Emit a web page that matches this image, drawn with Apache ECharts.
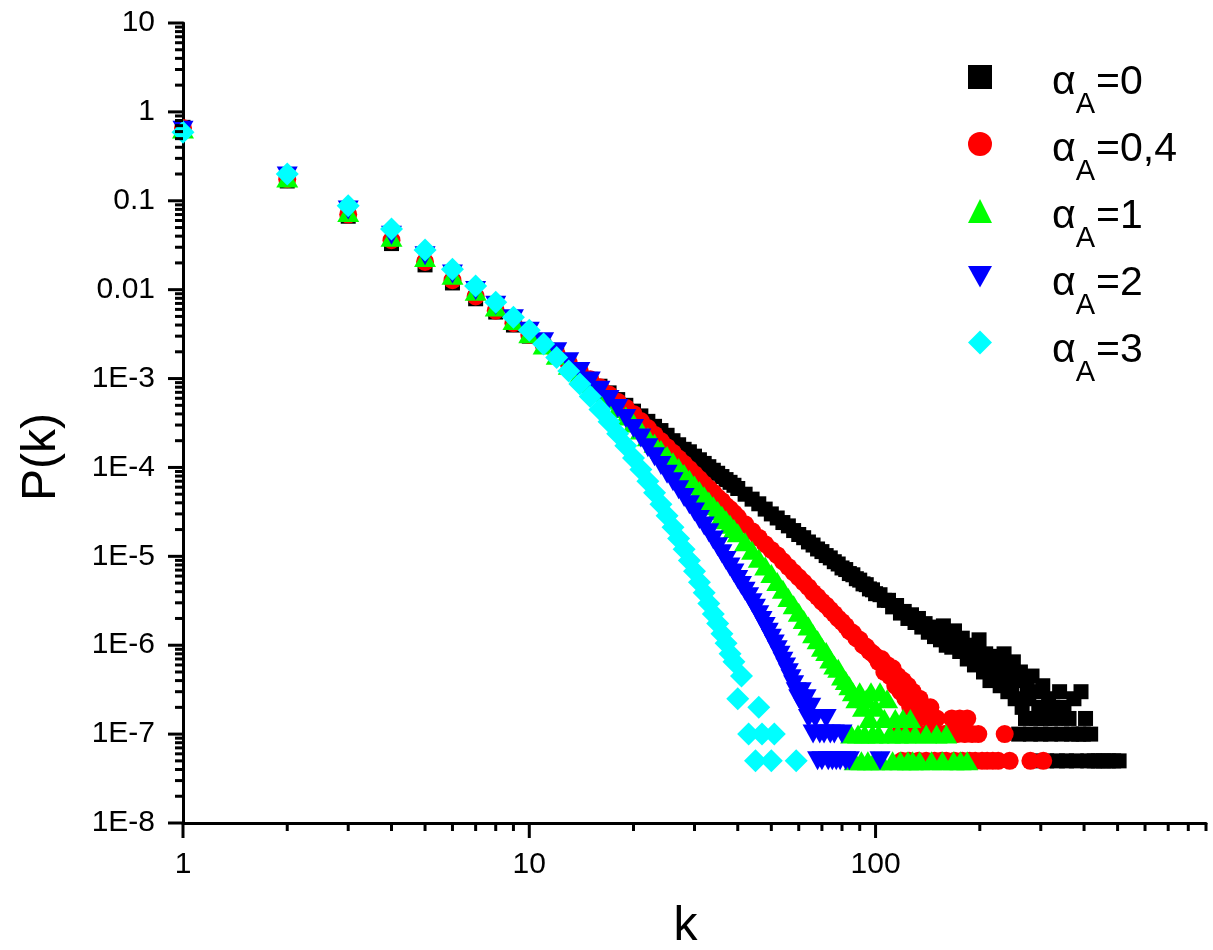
<!DOCTYPE html>
<html>
<head>
<meta charset="utf-8">
<script src="https://cdn.jsdelivr.net/npm/echarts@6/dist/echarts.min.js"></script>
<style>
  html, body { margin: 0; padding: 0; background: #fff; }
  #chart { width: 1213px; height: 950px; }
</style>
</head>
<body>
<div id="chart"></div>
<script>
// Degree distribution P(k) for five values of the attachment exponent alpha_A.
// Each series is a list of [k, P(k)] pairs.

const xTickLabels = ['1', '10', '100'];                       // k = 10^0 .. 10^2
const yTickLabels = ['1E-8', '1E-7', '1E-6', '1E-5', '1E-4',  // P = 10^-8 .. 10^1
                     '1E-3', '0.01', '0.1', '1', '10'];

const seriesNames = ['αA=0', 'αA=0,4', 'αA=1', 'αA=2', 'αA=3'];
const legendValues = ['0', '0,4', '1', '2', '3'];

const alpha0 = [
  [1,0.67],[2,0.167],[3,0.067],[4,0.033],[5,0.019],[6,0.0119],[7,0.0079],[8,0.0056],[9,0.0040],
  [10,0.0030],[11,0.0023],[12,0.00183],[13,0.00147],[14,0.00119],[15,0.00098],[16,0.00082],
  [17,0.00069],[18,0.00058],[19,0.00050],[20,0.00043],[21,0.00038],[22,0.00033],[23,0.00029],
  [24,0.00026],[25,0.00023],[26,0.00020],[27,0.00018],[28,0.00016],[29,0.00015],[30,0.000134],
  [31,0.000122],[32,0.000111],[33,0.000102],[34,9.3e-5],[35,8.6e-5],[36,7.9e-5],[37,7.3e-5],
  [38,6.8e-5],[39,6.3e-5],[40,5.8e-5],[42,5.0e-5],[44,4.4e-5],[46,3.9e-5],[48,3.4e-5],[50,3.0e-5],
  [52,2.7e-5],[54,2.4e-5],[56,2.2e-5],[58,1.95e-5],[60,1.76e-5],[62,1.62e-5],[64,1.45e-5],
  [66,1.34e-5],[68,1.21e-5],[70,1.13e-5],[72,1.02e-5],[74,9.6e-6],[76,8.7e-6],[78,8.2e-6],
  [80,7.4e-6],[82,7.1e-6],[84,6.4e-6],[86,6.2e-6],[88,5.6e-6],[90,5.4e-6],[92,4.9e-6],[94,4.8e-6],
  [96,4.3e-6],[98,4.2e-6],[100,3.8e-6],[103,3.7e-6],[106,3.2e-6],[109,3.2e-6],[112,2.7e-6],
  [115,2.8e-6],[118,2.3e-6],[121,2.4e-6],[124,2.0e-6],[127,2.2e-6],[130,1.8e-6],[133,2.0e-6],
  [136,1.6e-6],[139,1.75e-6],[142,1.4e-6],[145,1.6e-6],[148,1.25e-6],[151,1.5e-6],[154,1.15e-6],
  [157,1.65e-6],[160,1.0e-6],[163,1.35e-6],[166,9.5e-7],[169,1.45e-6],[172,1.05e-6],[175,8.5e-7],
  [178,1.2e-6],[181,9e-7],[184,7e-7],[187,1.0e-6],[190,8e-7],[193,6e-7],[196,9e-7],[199,1.15e-6],
  [202,7e-7],[205,5e-7],[208,8e-7],[211,6e-7],[214,4e-7],[217,7.5e-7],[220,5.5e-7],[223,4.5e-7],
  [226,6.5e-7],[229,3.5e-7],[232,5e-7],[235,8e-7],[238,4e-7],[241,3e-7],[244,5.5e-7],[247,3.5e-7],
  [250,6.5e-7],[253,2.5e-7],[256,4.5e-7],[259,1e-7],[262,5e-7],[265,2e-7],[268,4e-7],[271,1.5e-7],
  [274,3.5e-7],[277,2.5e-7],[280,1e-7],[283,4.5e-7],[286,5e-8],[289,3e-7],[292,1.5e-7],[296,2e-7],
  [300,1e-7],[304,3.5e-7],[308,1.5e-7],[312,5e-8],[316,2.5e-7],[320,1e-7],[325,2e-7],[330,1.5e-7],
  [335,5e-8],[340,3e-7],[345,1e-7],[350,2e-7],[356,5e-8],[362,1.5e-7],[368,1e-7],[374,2.5e-7],
  [380,5e-8],[386,1e-7],[392,3e-7],[398,1e-7],[404,1.5e-7],[410,5e-8],[418,1e-7],[428,5e-8],
  [440,5e-8],[455,5e-8],[470,5e-8],[487,5e-8],[505,5e-8]
];

const alpha04 = [
  [1,0.66],[2,0.175],[3,0.07],[4,0.036],[5,0.0205],[6,0.0128],[7,0.0084],[8,0.0058],[9,0.0042],
  [10,0.0031],[11,0.00238],[12,0.00187],[13,0.00149],[14,0.0012],[15,0.00098],[16,0.0008],
  [17,0.00066],[18,0.00055],[19,0.00047],[20,0.0004],[21,0.000332],[22,0.000277],[23,0.000234],
  [24,0.000198],[25,0.000169],[26,0.000146],[27,0.000126],[28,0.00011],[29,9.6e-5],[30,8.4e-5],
  [31,7.4e-5],[32,6.5e-5],[33,5.8e-5],[34,5.2e-5],[35,4.6e-5],[36,4.2e-5],[37,3.7e-5],[38,3.4e-5],
  [39,3.06e-5],[40,2.77e-5],[42,2.3e-5],[44,1.92e-5],[46,1.62e-5],[48,1.37e-5],[50,1.18e-5],
  [52,1.03e-5],[54,8.8e-6],[56,7.6e-6],[58,6.6e-6],[60,5.8e-6],[62,5.1e-6],[64,4.5e-6],[66,3.9e-6],
  [68,3.5e-6],[70,3.1e-6],[72,2.8e-6],[74,2.5e-6],[76,2.25e-6],[78,2.0e-6],[80,1.83e-6],[82,1.65e-6],
  [84,1.45e-6],[86,1.37e-6],[88,1.2e-6],[90,1.15e-6],[92,1.0e-6],[94,9.6e-7],[96,8.6e-7],[98,8.1e-7],
  [100,7.5e-7],[102,6.5e-7],[104,7e-7],[106,5e-7],[108,6e-7],[110,4.5e-7],[112,5.5e-7],[114,3.5e-7],
  [116,4.5e-7],[117,1e-7],[118,3e-7],[119,5e-8],[120,4e-7],[122,2.5e-7],[124,3.5e-7],[125,5e-8],
  [126,2e-7],[128,3e-7],[129,1e-7],[130,2.5e-7],[132,1.5e-7],[133,5e-8],[134,2.5e-7],[136,1e-7],
  [138,2e-7],[140,5e-8],[142,1.5e-7],[144,2e-7],[146,1e-7],[148,5e-8],[150,1.5e-7],[152,1e-7],
  [155,5e-8],[158,1e-7],[160,5e-8],[163,1e-7],[166,1.5e-7],[169,5e-8],[172,1e-7],[175,1.5e-7],
  [178,5e-8],[181,1e-7],[184,1.5e-7],[187,5e-8],[190,1e-7],[194,5e-8],[198,1e-7],[203,5e-8],
  [210,5e-8],[218,5e-8],[226,5e-8],[236,1e-7],[244,5e-8],[280,5e-8],[305,5e-8]
];

const alpha1 = [
  [1,0.64],[2,0.18],[3,0.074],[4,0.039],[5,0.023],[6,0.0145],[7,0.0096],[8,0.0064],[9,0.0045],
  [10,0.0032],[11,0.00239],[12,0.00183],[13,0.00141],[14,0.00111],[15,0.00088],[16,0.0007],
  [17,0.00057],[18,0.00046],[19,0.00038],[20,0.000316],[21,0.000264],[22,0.000222],[23,0.000187],
  [24,0.000159],[25,0.000136],[26,0.000116],[27,0.0001],[28,8.55e-5],[29,7.35e-5],[30,6.35e-5],
  [31,5.5e-5],[32,4.8e-5],[33,4.2e-5],[34,3.7e-5],[35,3.27e-5],[36,2.9e-5],[37,2.58e-5],[38,2.3e-5],
  [39,2.05e-5],[40,1.84e-5],[42,1.46e-5],[44,1.17e-5],[46,9.5e-6],[48,7.8e-6],[50,6.4e-6],
  [52,5.2e-6],[54,4.25e-6],[56,3.45e-6],[58,2.85e-6],[60,2.35e-6],[62,1.95e-6],[64,1.65e-6],
  [66,1.35e-6],[68,1.15e-6],[70,9.5e-7],[72,8.5e-7],[74,7e-7],[76,6e-7],[78,5.5e-7],[80,4.5e-7],
  [82,4e-7],[84,3.5e-7],[85,1e-7],[86,3e-7],[87,5e-8],[88,2.5e-7],[89,1e-7],[90,3e-7],[91,5e-8],
  [92,2e-7],[93,1e-7],[94,2.5e-7],[95,5e-8],[96,1.5e-7],[97,3e-7],[98,1e-7],[99,5e-8],[100,2e-7],
  [102,1e-7],[103,3e-7],[104,5e-8],[106,1.5e-7],[108,2.5e-7],[110,1e-7],[112,5e-8],[114,1.5e-7],
  [116,1e-7],[118,5e-8],[120,1.5e-7],[122,1e-7],[124,5e-8],[126,1.5e-7],[128,5e-8],[130,1e-7],
  [134,5e-8],[140,1e-7],[145,5e-8],[150,1e-7],[156,5e-8],[160,1e-7],[168,5e-8],[176,5e-8],[184,5e-8]
];

const alpha2 = [
  [1,0.62],[2,0.19],[3,0.079],[4,0.041],[5,0.024],[6,0.015],[7,0.0098],[8,0.0067],[9,0.0047],
  [10,0.0034],[11,0.0026],[12,0.002],[13,0.00155],[14,0.0012],[15,0.00094],[16,0.00074],[17,0.00058],
  [18,0.00046],[19,0.000355],[20,0.000275],[21,0.000215],[22,0.000167],[23,0.000132],[24,0.000105],
  [25,8.4e-5],[26,6.9e-5],[27,5.6e-5],[28,4.6e-5],[29,3.8e-5],[30,3.15e-5],[31,2.6e-5],[32,2.2e-5],
  [33,1.84e-5],[34,1.53e-5],[35,1.28e-5],[36,1.07e-5],[37,9e-6],[38,7.6e-6],[39,6.5e-6],[40,5.5e-6],
  [41,4.7e-6],[42,4.05e-6],[43,3.5e-6],[44,3e-6],[45,2.6e-6],[46,2.2e-6],[47,1.9e-6],[48,1.62e-6],
  [49,1.4e-6],[50,1.2e-6],[51,1.03e-6],[52,8.9e-7],[53,7.7e-7],[54,6.6e-7],[55,5.7e-7],[56,4.9e-7],
  [57,4.2e-7],[58,3.6e-7],[59,3e-7],[60,2.5e-7],[61,3e-7],[62,2e-7],[63,2.5e-7],[64,1.5e-7],
  [65,2e-7],[66,1e-7],[67,1.5e-7],[68,5e-8],[69,1e-7],[70,5e-8],[71,1e-7],[72,1.5e-7],[73,5e-8],
  [74,1e-7],[75,5e-8],[76,1e-7],[77,5e-8],[79,5e-8],[80,1e-7],[82,5e-8],[84,5e-8],[103,5e-8]
];

const alpha3 = [
  [1,0.59],[2,0.2],[3,0.088],[4,0.048],[5,0.028],[6,0.017],[7,0.011],[8,0.0072],[9,0.0049],
  [10,0.0035],[11,0.00244],[12,0.00172],[13,0.00122],[14,0.00087],[15,0.00063],[16,0.00045],
  [17,0.000327],[18,0.000239],[19,0.000175],[20,0.000128],[21,9.5e-5],[22,7e-5],[23,5.2e-5],
  [24,3.85e-5],[25,2.86e-5],[26,2.13e-5],[27,1.59e-5],[28,1.2e-5],[29,9e-6],[30,6.8e-6],[31,5.1e-6],
  [32,3.9e-6],[33,2.95e-6],[34,2.25e-6],[35,1.75e-6],[36,1.35e-6],[37,1.05e-6],[38,8e-7],[39,6.5e-7],
  [40,2.5e-7],[41,4.5e-7],[43,1e-7],[45,5e-8],[46,2e-7],[47,1e-7],[50,5e-8],[51,1e-7],[59,5e-8]
];

const FONT = "'Liberation Sans', Arial, Helvetica, sans-serif";
const X_MIN = 1, X_MAX = 900, Y_MIN = 1e-8, Y_MAX = 10;

function fontString(size) {
  return size + 'px "Liberation Sans", Arial, Helvetica, sans-serif';
}

// Decade ticks: 1..9 times each power of ten; the first of each decade is a major tick.
const xTickData = [];
for (let e = 0; e <= 2; e++) {
  for (let m = 1; m <= 9; m++) {
    const v = m * Math.pow(10, e);
    if (v <= X_MAX) xTickData.push([v, Y_MIN, m === 1 ? 1 : 0]);
  }
}
const yTickData = [];
for (let e = -8; e <= 0; e++) {
  for (let m = 1; m <= 9; m++) yTickData.push([X_MIN, m * Math.pow(10, e), m === 1 ? 1 : 0]);
}
yTickData.push([X_MIN, Y_MAX, 1]);

function decadeLabel(v, labels, offset) {
  const e = Math.log10(v);
  const r = Math.round(e);
  return Math.abs(e - r) < 1e-6 ? (labels[r + offset] || '') : '';
}

// Axis ticks (outward, major 15px / minor 8px) and decade labels, placed through the axis scales.
function tickSeries(data, onXAxis) {
  return {
    type: 'custom',
    coordinateSystem: 'cartesian2d',
    silent: true,
    clip: false,
    z: 5,
    data: data,
    encode: { x: 0, y: 1 },
    renderItem: function (params, api) {
      const v = onXAxis ? api.value(0) : api.value(1);
      const p = api.coord([api.value(0), api.value(1)]);
      const major = api.value(2) === 1;
      const len = major ? 15 : 8;
      const children = [{
        type: 'line',
        shape: onXAxis
          ? { x1: p[0], y1: p[1], x2: p[0], y2: p[1] + len }
          : { x1: p[0] - len, y1: p[1], x2: p[0], y2: p[1] },
        style: { stroke: '#000', lineWidth: 3 }
      }];
      const text = major
        ? (onXAxis ? decadeLabel(v, xTickLabels, 0) : decadeLabel(v, yTickLabels, 8))
        : '';
      if (text) {
        children.push({
          type: 'text',
          style: onXAxis
            ? { text: text, x: p[0], y: p[1] + 42, align: 'center', verticalAlign: 'middle',
                font: fontString(30), fontSize: 30, fontFamily: FONT, fill: '#000' }
            : { text: text, x: p[0] - 28, y: p[1], align: 'right', verticalAlign: 'middle',
                font: fontString(30), fontSize: 30, fontFamily: FONT, fill: '#000' }
        });
      }
      return { type: 'group', children: children };
    }
  };
}

const markerStyles = [
  { data: alpha0,  symbol: 'rect',     size: 15,        color: '#000000', rotate: 0 },
  { data: alpha04, symbol: 'circle',   size: 18,        color: '#ff0000', rotate: 0 },
  { data: alpha1,  symbol: 'triangle', size: [22, 19],  color: '#00ff00', rotate: 0 },
  { data: alpha2,  symbol: 'triangle', size: [21, 19],  color: '#0000ff', rotate: 180 },
  { data: alpha3,  symbol: 'diamond',  size: 23,        color: '#00ffff', rotate: 0 }
];

const scatterSeries = markerStyles.map(function (s, i) {
  return {
    name: seriesNames[i],
    type: 'scatter',
    data: s.data,
    symbol: s.symbol,
    symbolSize: s.size,
    symbolRotate: s.rotate,
    itemStyle: { color: s.color, opacity: 1 },
    emphasis: { disabled: true },
    z: 2 + i * 0.01
  };
});

// Legend keys come from the legend component; the downward triangle gets its own icon path.
const legendData = seriesNames.map(function (name, i) {
  return i === 3 ? { name: name, icon: 'path://M0,0L20,0L10,18Z' } : { name: name };
});

// Legend labels "α_A=value": main text, then a lowered subscript A.
const LEG_X = 1052, LEG_Y0 = 77, LEG_STEP = 67;
const measureCtx = document.createElement('canvas').getContext('2d');
function textWidth(str, size) {
  measureCtx.font = fontString(size);
  return measureCtx.measureText(str).width;
}
const legendLabels = [];
legendValues.forEach(function (val, i) {
  const y = LEG_Y0 + LEG_STEP * i;
  const wAlpha = textWidth('α', 41);
  const wSub = textWidth('A', 29);
  legendLabels.push(
    { type: 'text', left: LEG_X, top: y - 15, silent: true,
      style: { text: 'α', font: fontString(41), fill: '#000' } },
    { type: 'text', left: LEG_X + wAlpha, top: y + 13, silent: true,
      style: { text: 'A', font: fontString(29), fill: '#000' } },
    { type: 'text', left: LEG_X + wAlpha + wSub + 1, top: y - 15, silent: true,
      style: { text: '=' + val, font: fontString(41), fill: '#000' } }
  );
});

const chart = echarts.init(document.getElementById('chart'), null, { renderer: 'canvas' });

chart.setOption({
  animation: false,
  backgroundColor: '#ffffff',
  textStyle: { fontFamily: FONT },
  grid: {
    left: 183, right: 7, top: 23, bottom: 127,
    containLabel: false,
    outerBoundsMode: 'none'
  },
  legend: {
    orient: 'vertical',
    left: 968,
    top: LEG_Y0 - 12,
    padding: 0,
    itemWidth: 24,
    itemHeight: 24,
    itemGap: LEG_STEP - 24,
    selectedMode: false,
    data: legendData,
    formatter: function () { return ''; },
    textStyle: { fontSize: 1, lineHeight: 1, color: '#000' }
  },
  graphic: legendLabels,
  xAxis: {
    type: 'log',
    logBase: 10,
    min: X_MIN,
    max: X_MAX,
    name: 'k',
    nameLocation: 'middle',
    nameGap: 80,
    nameTextStyle: { fontSize: 48, fontFamily: FONT, color: '#000', padding: [0, 18, 0, 0] },
    axisLine: { show: true, onZero: false, lineStyle: { color: '#000', width: 3 } },
    axisTick: { show: false },
    minorTick: { show: false },
    splitLine: { show: false },
    axisLabel: { show: false }
  },
  yAxis: {
    type: 'log',
    logBase: 10,
    min: Y_MIN,
    max: Y_MAX,
    name: 'P(k)',
    nameLocation: 'middle',
    nameGap: 117,
    nameTextStyle: { fontSize: 48, fontFamily: FONT, color: '#000', padding: [0, 68, 0, 0] },
    axisLine: { show: true, onZero: false, lineStyle: { color: '#000', width: 3 } },
    axisTick: { show: false },
    minorTick: { show: false },
    splitLine: { show: false },
    axisLabel: { show: false }
  },
  series: scatterSeries.concat([tickSeries(xTickData, true), tickSeries(yTickData, false)])
});
</script>
</body>
</html>
